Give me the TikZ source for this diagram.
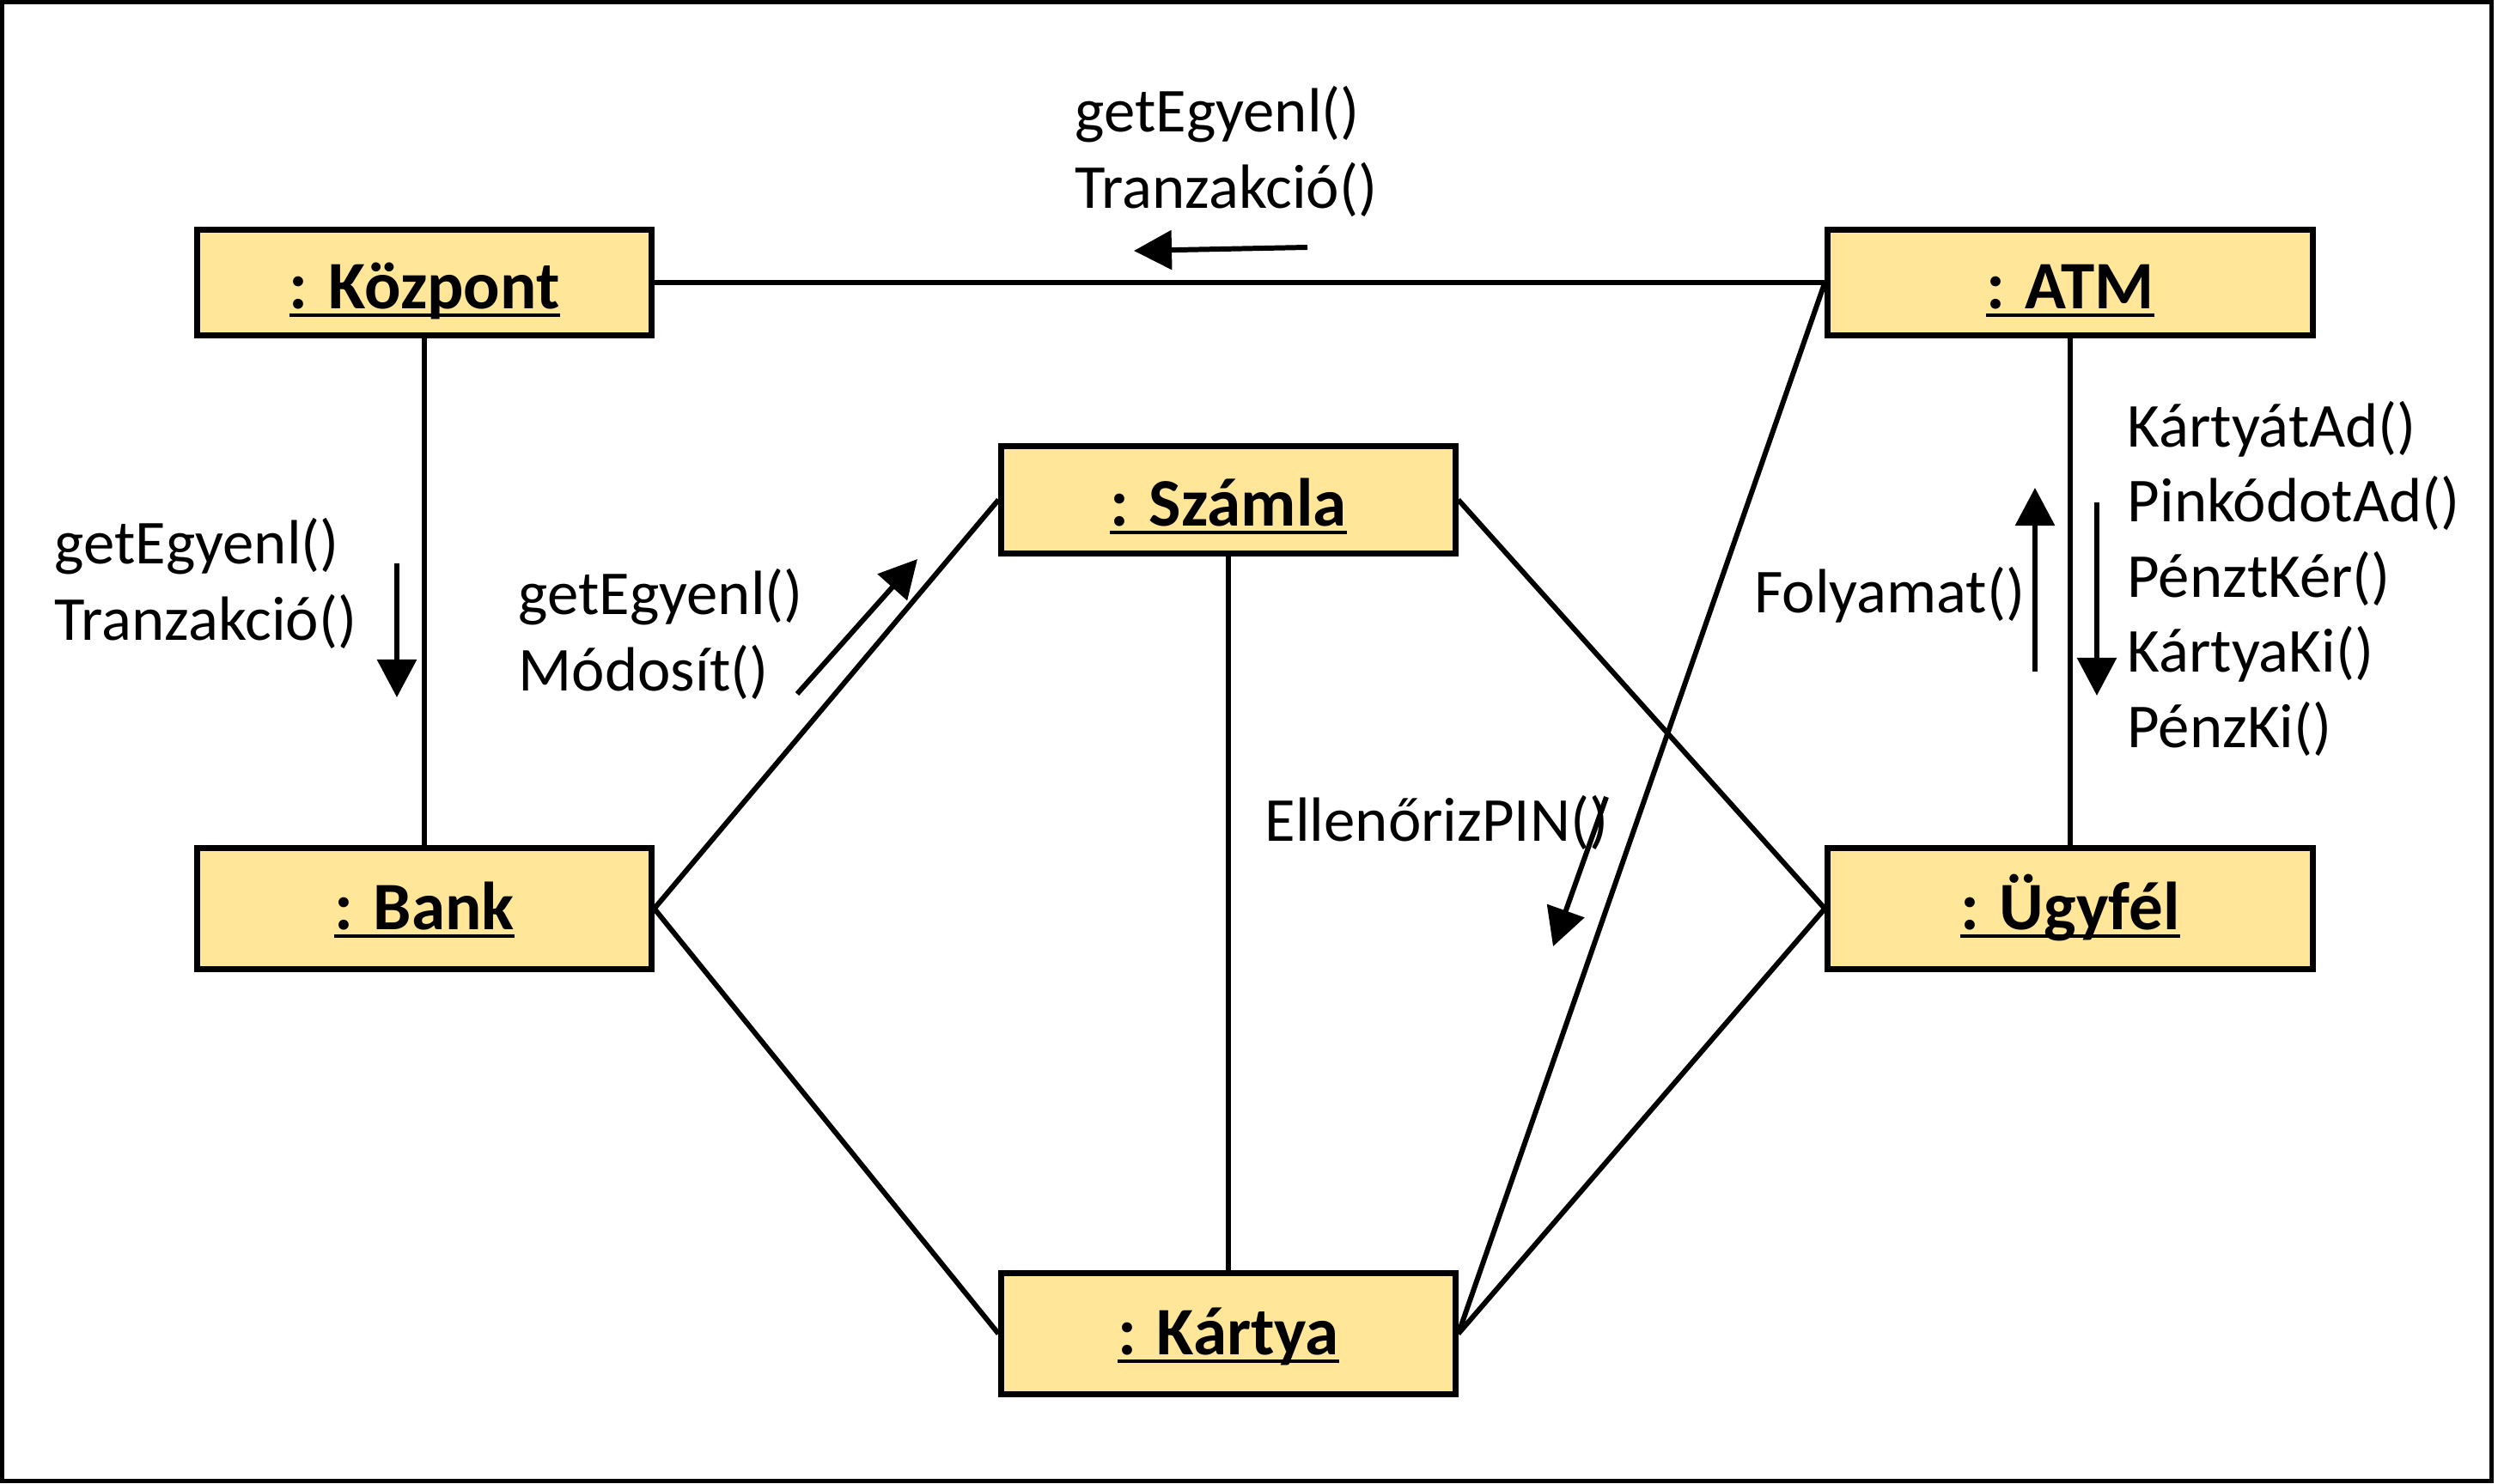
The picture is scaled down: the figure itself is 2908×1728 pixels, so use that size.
\documentclass[tikz,border=0pt]{standalone}
\usepackage{fontspec}
\setmainfont{Carlito}
\usetikzlibrary{arrows.meta}
\definecolor{boxfill}{RGB}{255,230,153}
\newcommand\objname[1]{\setbox0\hbox{#1}\rlap{\rule[-0.13em]{\wd0}{0.055em}}\box0}
\begin{document}
\begin{tikzpicture}[x=0.01cm,y=-0.01cm,
  obj/.style={draw=black, line width=2pt, fill=boxfill, inner sep=0pt,
    font=\fontsize{22.5}{27}\selectfont\bfseries, text height=0.6cm, text depth=0cm},
  tallobj/.style={obj, minimum height=1.40cm, text height=0.48cm},
  conn/.style={line width=1.7pt},
  msg/.style={line width=1.7pt, -{Triangle[length=0.44cm,width=0.45cm]}},
  lbl/.style={inner sep=0pt, anchor=base west, font=\fontsize{20.7}{25}\selectfont}]
\useasboundingbox (0,0) rectangle (2908,1728);
\draw[line width=0.05cm] (2.5,2.5) rectangle (2900.5,1724.5);

% objects
\node[obj, minimum width=5.28cm, minimum height=1.22cm] (kozpont) at (494,329) {\objname{: Központ}};
\node[obj, minimum width=5.64cm, minimum height=1.22cm] (atm) at (2410,329) {\objname{: ATM}};
\node[obj, minimum width=5.28cm, minimum height=1.25cm] (szamla) at (1430,582) {\objname{: Számla}};
\node[tallobj, minimum width=5.28cm] (bank) at (494,1058) {\objname{: Bank}};
\node[tallobj, minimum width=5.64cm] (ugyfel) at (2410,1058) {\objname{: Ügyfél}};
\node[tallobj, minimum width=5.28cm] (kartya) at (1430,1553) {\objname{: Kártya}};

% links
\draw[conn] (kozpont.east) -- (atm.west);
\draw[conn] (kozpont.south) -- (bank.north);
\draw[conn] (bank.east) -- (szamla.west);
\draw[conn] (bank.east) -- (kartya.west);
\draw[conn] (szamla.south) -- (kartya.north);
\draw[conn] (szamla.east) -- (ugyfel.west);
\draw[conn] (kartya.east) -- (ugyfel.west);
\draw[conn] (atm.west) -- (kartya.east);
\draw[conn] (atm.south) -- (ugyfel.north);

% message arrows
\coordinate (m1s) at (1522,288); \coordinate (m1e) at (1320,292);
\coordinate (m2s) at (462,656);  \coordinate (m2e) at (462,812);
\coordinate (m3s) at (928,808);  \coordinate (m3e) at (1068,651);
\coordinate (m4s) at (2369,782); \coordinate (m4e) at (2369,568);
\coordinate (m5s) at (2441,585); \coordinate (m5e) at (2441,810);
\coordinate (m6s) at (1870,928); \coordinate (m6e) at (1808,1102);
\draw[msg] (m1s) -- (m1e);
\draw[msg] (m2s) -- (m2e);
\draw[msg] (m3s) -- (m3e);
\draw[msg] (m4s) -- (m4e);
\draw[msg] (m5s) -- (m5e);
\draw[msg] (m6s) -- (m6e);

% labels
\node[lbl] (t1a) at (1251,154) {getEgyenl()};
\node[lbl] (t1b) at (1251,243) {Tranzakció()};
\node[lbl] (t2a) at (63,657) {getEgyenl()};
\node[lbl] (t2b) at (63,746) {Tranzakció()};
\node[lbl] (t3a) at (603,716) {getEgyenl()};
\node[lbl] (t3b) at (603,805) {Módosít()};
\node[lbl, anchor=base east] (t4) at (2358,714) {Folyamat()};
\node[lbl] (t5a) at (2476,521) {KártyátAd()};
\node[lbl] (t5b) at (2476,608) {PinkódotAd()};
\node[lbl] (t5c) at (2476,696) {PénztKér()};
\node[lbl] (t5d) at (2476,783) {KártyaKi()};
\node[lbl] (t5e) at (2476,871) {PénzKi()};
\node[lbl] (t6) at (1472,980) {EllenőrizPIN()};
\end{tikzpicture}
\end{document}
